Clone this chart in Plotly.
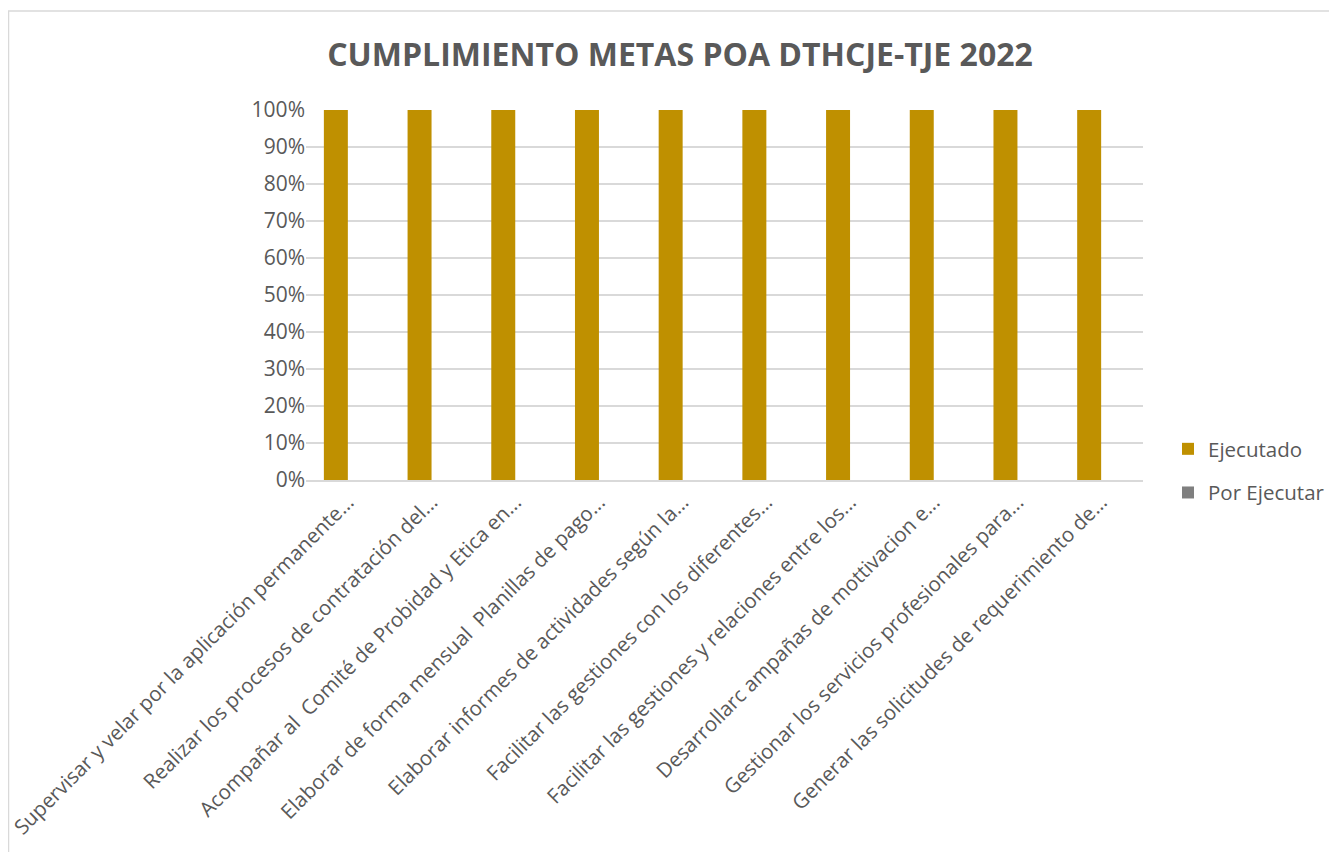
import plotly.graph_objects as go

# Data
metas = [
    "Supervisar y velar por la aplicación permanente...",
    "Realizar los procesos de contratación del...",
    "Acompañar al  Comité de Probidad y Etica en...",
    "Elaborar de forma mensual  Planillas de pago...",
    "Elaborar informes de actividades según la...",
    "Facilitar las gestiones con los diferentes...",
    "Facilitar las gestiones y relaciones entre los...",
    "Desarrollarc ampañas de mottivacion e...",
    "Gestionar los servicios profesionales para...",
    "Generar las solicitudes de requerimiento de...",
]
ejecutado = [1, 1, 1, 1, 1, 1, 1, 1, 1, 1]
por_ejecutar = [0, 0, 0, 0, 0, 0, 0, 0, 0, 0]
y_ticks = [0, 0.1, 0.2, 0.3, 0.4, 0.5, 0.6, 0.7, 0.8, 0.9, 1.0]

# page body has an 8px margin, so the figure is sized to fit the window
W, H = 1329, 844
L, R, T, B = 298, 194, 102, 372

fig = go.Figure()
fig.add_trace(go.Bar(x=metas, y=ejecutado, name="Ejecutado", marker_color="#BF9000",
                     marker_line_width=0, legendgroup="a"))
fig.add_trace(go.Bar(x=metas, y=por_ejecutar, name="Por Ejecutar", marker_color="#7F7F7F",
                     marker_line_width=0, legendgroup="b"))

pw = W - L - R
ph = H - T - B
fig.update_layout(
    width=W, height=H,
    margin=dict(l=L, r=R, t=T, b=B, pad=0, autoexpand=False),
    paper_bgcolor="white", plot_bgcolor="white",
    barmode="group", bargap=0.427, bargroupgap=0,
    font=dict(family="Open Sans", color="#595959", size=20),
    title=dict(text="<b>CUMPLIMIENTO METAS POA DTHCJE-TJE 2022</b>",
               x=(680 - 8) / W, xref="container", xanchor="center",
               y=1 - 47 / H, yref="container", yanchor="middle",
               font=dict(size=32, color="#595959", family="Open Sans")),
    xaxis=dict(tickangle=-45, showgrid=False, showline=True, linecolor="#D9D9D9",
               linewidth=2, ticks="", automargin=False,
               tickfont=dict(size=20.5, color="#595959")),
    yaxis=dict(range=[0, 1.0], tickvals=y_ticks, tickformat=".0%", showgrid=True,
               gridcolor="#D9D9D9", gridwidth=1.5, zeroline=False, ticks="",
               ticklen=0, automargin=False, tickfont=dict(size=21, color="#595959")),
    legend=dict(x=(1160 - L) / pw, y=(472 - 421) / ph, xanchor="left", yanchor="top",
                font=dict(size=20.5, color="#595959"), tracegroupgap=14,
                itemwidth=30, bgcolor="rgba(0,0,0,0)"),
    showlegend=True,
)

# chart area frame
fig.add_shape(type="rect", xref="paper", yref="paper",
              x0=(0.5 - L) / pw, x1=(W + 5 - L) / pw,
              y0=-(B + 10) / ph, y1=1 + (T - 3) / ph,
              line=dict(color="#D9D9D9", width=1.5), fillcolor="rgba(0,0,0,0)", layer="below")

fig.write_html("out.html")
